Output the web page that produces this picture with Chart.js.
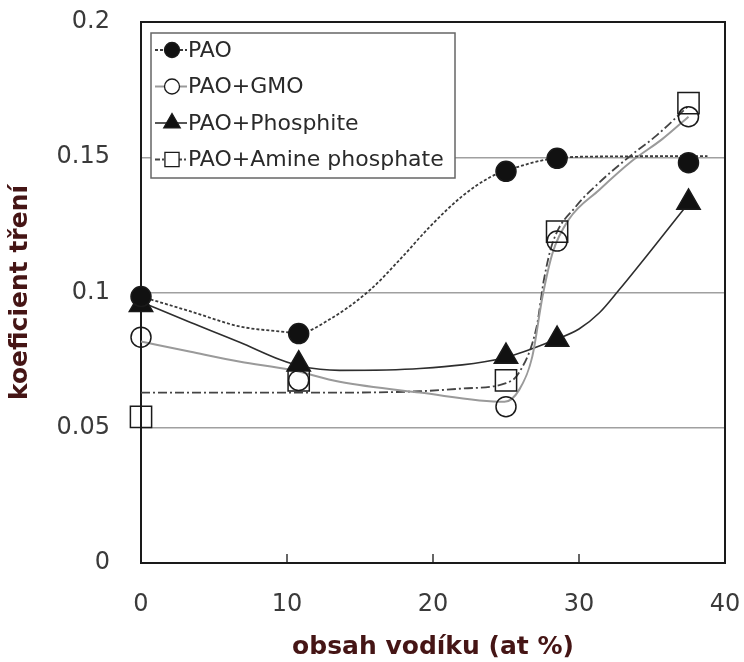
<!DOCTYPE html>
<html>
<head>
<meta charset="utf-8">
<title>koeficient tření</title>
<script src="https://cdn.jsdelivr.net/npm/chart.js@4.4.1/dist/chart.umd.min.js"></script>
<style>
  html, body { margin: 0; padding: 0; background: #fff; }
  #wrap { width: 744px; height: 662px; }
</style>
</head>
<body>
<div id="wrap"><canvas id="frictionChart" width="744" height="662"></canvas></div>
<script>
// measured points (hydrogen content in at %)
const hydrogen = [0, 10.8, 25, 28.5, 37.5];
const pao = [0.0985, 0.0848, 0.1448, 0.1496, 0.148];
const paoGmo = [0.0835, 0.0675, 0.0578, 0.119, 0.165];
const paoPhosphite = [0.0955, 0.0735, 0.0763, 0.0826, 0.1333];
const paoAmine = [0.054, 0.0675, 0.0675, 0.1225, 0.170];

// trend curves
const paoTrendX = [0, 3.4, 6.8, 9.5, 10.8, 12.9, 15.7, 17.7, 19.8, 22.0, 23.9, 25.0, 28.5, 32.0, 38.8];
const paoTrendY = [0.0985, 0.093, 0.0874, 0.0856, 0.085, 0.09, 0.101, 0.112, 0.1244, 0.1356, 0.1426, 0.145, 0.1497, 0.1503, 0.1504];
const gmoTrendX = [0, 3.4, 6.8, 10.2, 13.6, 19.1, 24.9, 25.9, 26.8, 27.5, 28.2, 29.3, 31.4, 33.6, 35.7, 37.5];
const gmoTrendY = [0.0819, 0.0781, 0.0744, 0.0715, 0.067, 0.063, 0.0596, 0.064, 0.0763, 0.0985, 0.1148, 0.127, 0.138, 0.1485, 0.1567, 0.165];
const phosphiteTrendX = [0, 3.4, 6.8, 9.5, 10.9, 13.6, 19.1, 24.9, 28.4, 30.0, 31.4, 32.75, 35.0, 37.5];
const phosphiteTrendY = [0.0965, 0.0889, 0.0815, 0.0752, 0.0728, 0.0712, 0.0719, 0.0759, 0.0826, 0.0865, 0.0925, 0.101, 0.116, 0.133];
const amineTrendX = [0, 13.6, 19.1, 22.0, 25.0, 25.9, 27.1, 27.6, 28.2, 29.8, 31.4, 33.4, 35.3, 37.5];
const amineTrendY = [0.063, 0.063, 0.0635, 0.0645, 0.0665, 0.0704, 0.0874, 0.1048, 0.1185, 0.1319, 0.1407, 0.15, 0.158, 0.169];

const seriesNames = ['PAO', 'PAO+GMO', 'PAO+Phosphite', 'PAO+Amine phosphate'];
const xTicks = [0, 10, 20, 30, 40];
const yTicks = [0, 0.05, 0.1, 0.15, 0.2];

const toPoints = (xs, ys) => xs.map((x, i) => ({ x: x, y: ys[i] }));

// look of each series: marker + trend line
const styles = [
  { shape: 'circle', radius: 10, fill: '#111', line: '#3a3a3a', width: 1.8, dash: [3, 2] },
  { shape: 'circle', radius: 10, fill: 'rgba(255,255,255,0)', line: '#9a9a9a', width: 2, dash: [] },
  { shape: 'triangle', radius: 13.5, fill: '#111', line: '#2e2e2e', width: 1.6, dash: [] },
  { shape: 'rect', radius: 15, fill: 'rgba(255,255,255,0)', line: '#444', width: 1.8, dash: [9, 3, 2, 3] },
];

const markerSets = [pao, paoGmo, paoPhosphite, paoAmine];
const trendSets = [
  [paoTrendX, paoTrendY],
  [gmoTrendX, gmoTrendY],
  [phosphiteTrendX, phosphiteTrendY],
  [amineTrendX, amineTrendY],
];

const datasets = [];
// markers first so they are drawn on top
[0, 2, 1, 3].forEach((i) => {
  datasets.push({
    label: seriesNames[i],
    data: toPoints(hydrogen, markerSets[i]),
    showLine: false,
    pointStyle: styles[i].shape,
    pointRadius: styles[i].radius,
    pointBackgroundColor: styles[i].fill,
    pointBorderColor: '#1a1a1a',
    pointBorderWidth: 1.5,
    clip: false,
  });
});
trendSets.forEach((t, i) => {
  datasets.push({
    label: seriesNames[i] + ' trend',
    data: toPoints(t[0], t[1]),
    pointRadius: 0,
    borderColor: styles[i].line,
    borderWidth: styles[i].width,
    borderDash: styles[i].dash,
    cubicInterpolationMode: 'monotone',
    fill: false,
    clip: false,
  });
});

// small marker drawer for the legend
function drawMarker(ctx, shape, x, y, r, fill) {
  ctx.save();
  ctx.fillStyle = fill;
  ctx.strokeStyle = '#1a1a1a';
  ctx.lineWidth = 1.3;
  ctx.setLineDash([]);
  ctx.beginPath();
  if (shape === 'circle') {
    ctx.arc(x, y, r, 0, Math.PI * 2);
  } else if (shape === 'triangle') {
    ctx.moveTo(x, y - r);
    ctx.lineTo(x + r * 0.866, y + r * 0.5);
    ctx.lineTo(x - r * 0.866, y + r * 0.5);
    ctx.closePath();
  } else {
    ctx.rect(x - r * 0.707, y - r * 0.707, r * 1.414, r * 1.414);
  }
  ctx.fill();
  ctx.stroke();
  ctx.restore();
}

const framePlugin = {
  id: 'frame',
  beforeDatasetsDraw(chart) {
    const { ctx, chartArea: a, scales } = chart;
    ctx.save();
    // inward ticks on the x axis
    ctx.strokeStyle = '#333';
    ctx.lineWidth = 1.5;
    xTicks.forEach((v) => {
      const px = scales.x.getPixelForValue(v);
      ctx.beginPath();
      ctx.moveTo(px, a.bottom);
      ctx.lineTo(px, a.bottom - 9);
      ctx.stroke();
    });
    ctx.strokeStyle = '#1a1a1a';
    ctx.lineWidth = 2;
    ctx.strokeRect(a.left, a.top, a.right - a.left, a.bottom - a.top);
    ctx.restore();
  },
};

const legendPlugin = {
  id: 'boxLegend',
  afterDatasetsDraw(chart) {
    const ctx = chart.ctx;
    const box = { left: 151, top: 33, width: 304, height: 145 };
    ctx.save();
    ctx.fillStyle = '#fff';
    ctx.fillRect(box.left, box.top, box.width, box.height);
    ctx.strokeStyle = '#666';
    ctx.lineWidth = 1.5;
    ctx.strokeRect(box.left, box.top, box.width, box.height);
    ctx.font = '22px "DejaVu Sans"';
    ctx.textBaseline = 'middle';
    ctx.fillStyle = '#2a2a2a';
    seriesNames.forEach((name, i) => {
      const y = box.top + 17 + i * 36.5;
      const s = styles[i];
      ctx.strokeStyle = s.line;
      ctx.lineWidth = s.width;
      ctx.setLineDash(i === 3 ? [5, 2, 2, 2] : s.dash);
      ctx.beginPath();
      ctx.moveTo(box.left + 4, y);
      ctx.lineTo(box.left + 36, y);
      ctx.stroke();
      ctx.setLineDash([]);
      const r = s.shape === 'circle' ? 7.5 : s.shape === 'triangle' ? 9.5 : 10;
      drawMarker(ctx, s.shape, box.left + 21, y, r, s.fill === '#111' ? '#111' : '#fff');
      ctx.fillStyle = '#2a2a2a';
      ctx.fillText(name, box.left + 37, y + 1);
    });
    ctx.restore();
  },
};

const ctx = document.getElementById('frictionChart').getContext('2d');
new Chart(ctx, {
  type: 'line',
  data: { datasets: datasets },
  options: {
    responsive: false,
    devicePixelRatio: 1,
    animation: false,
    events: [],
    layout: { padding: { top: 22, right: 19, bottom: 0, left: 0 } },
    plugins: { legend: { display: false }, tooltip: { enabled: false } },
    scales: {
      x: {
        type: 'linear',
        min: 0,
        max: 40,
        afterBuildTicks: (s) => { s.ticks = xTicks.map((v) => ({ value: v })); },
        afterFit: (s) => { s.height = 99; s.paddingLeft = 0; s.paddingRight = 0; },
        grid: { display: false, drawTicks: false },
        border: { display: false },
        ticks: {
          padding: 27,
          color: '#3a3a3a',
          font: { family: 'DejaVu Sans', size: 24 },
          maxRotation: 0,
        },
        title: {
          display: true,
          text: 'obsah vodíku (at %)',
          color: '#451515',
          font: { family: 'DejaVu Sans', size: 25, weight: 'bold' },
          padding: { top: 0, bottom: 0 },
        },
      },
      y: {
        type: 'linear',
        min: 0,
        max: 0.2,
        afterBuildTicks: (s) => { s.ticks = yTicks.map((v) => ({ value: v })); },
        afterFit: (s) => { s.width = 141; s.paddingTop = 0; s.paddingBottom = 0; },
        grid: { color: '#a0a0a0', lineWidth: 1.5, drawTicks: false },
        border: { display: false },
        ticks: {
          padding: 31,
          color: '#3a3a3a',
          font: { family: 'DejaVu Sans', size: 24 },
          callback: (v) => String(parseFloat(Number(v).toFixed(2))),
        },
        title: {
          display: true,
          text: 'koeficient tření',
          color: '#451515',
          font: { family: 'DejaVu Sans', size: 25, weight: 'bold' },
          padding: { top: 5, bottom: 0 },
        },
      },
    },
  },
  plugins: [framePlugin, legendPlugin],
});
</script>
</body>
</html>
